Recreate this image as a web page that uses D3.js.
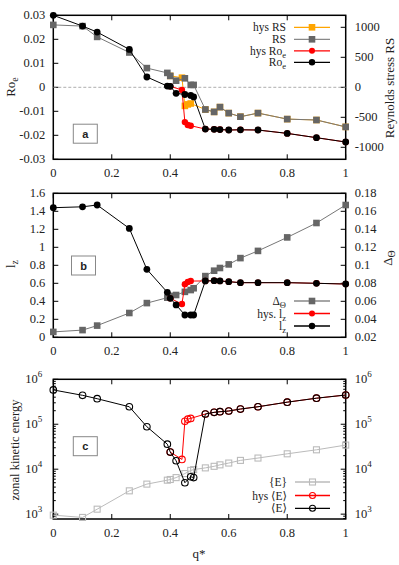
<!DOCTYPE html>
<html><head><meta charset="utf-8">
<script src="https://cdn.jsdelivr.net/npm/d3@7"></script>
<style>
body{margin:0;background:#fff;}
svg{display:block;}
</style></head>
<body><svg id="c" width="399" height="565" font-family="'Liberation Serif', 'Times New Roman', 'DejaVu Serif', serif"></svg>
<script>
// ---------- data ----------
const q      = [0, 0.1, 0.15, 0.26, 0.32, 0.39, 0.4, 0.42, 0.45, 0.47, 0.48, 0.52, 0.55, 0.57, 0.6, 0.64, 0.7, 0.8, 0.9, 1.0];
const qHys   = [0.4, 0.44, 0.45, 0.46, 0.47, 0.52, 0.55, 0.57, 0.6, 0.64, 0.7, 0.8, 0.9, 1.0];

const RoE    = [0.0300, 0.0255, 0.0230, 0.0158, 0.0043, 0.0005, 0.0004, -0.0025, -0.0030, -0.0034, -0.0040, -0.0174, -0.0175, -0.0176, -0.0178, -0.0177, -0.0178, -0.0192, -0.0210, -0.0228];
const hysRoE = [0.0004, -0.0011, -0.0145, -0.0157, -0.0160, -0.0174, -0.0175, -0.0176, -0.0178, -0.0177, -0.0178, -0.0192, -0.0210, -0.0228];
const RS     = [1040, 1020, 840, 580, 320, 240, 190, 110, 150, 40, 40, -370, -410, -330, -430, -490, -430, -530, -545, -660];
const hysRS  = [190, 160, -310, -285, -270, -370, -410, -330, -430, -490, -430, -530, -545, -660];

const lz     = [1.44, 1.45, 1.47, 1.21, 0.755, 0.50, 0.433, 0.36, 0.248, 0.248, 0.248, 0.626, 0.629, 0.626, 0.618, 0.607, 0.607, 0.607, 0.600, 0.592];
const hysLz  = [0.433, 0.37, 0.59, 0.615, 0.625, 0.626, 0.629, 0.626, 0.618, 0.607, 0.607, 0.607, 0.600, 0.592];
const deltaT = [0.026, 0.028, 0.033, 0.047, 0.058, 0.064, 0.066, 0.067, 0.0705, 0.0725, 0.0745, 0.088, 0.094, 0.097, 0.101, 0.108, 0.116, 0.131, 0.147, 0.167];

const Ezon   = [5.8e5, 4.4e5, 3.7e5, 2.45e5, 8.8e4, 3.6e4, 2.4e4, 1.54e4, 5.0e3, 6.8e3, 6.5e3, 1.69e5, 1.84e5, 1.9e5, 1.97e5, 2.18e5, 2.45e5, 3.1e5, 3.8e5, 4.47e5];
const hysE   = [2.4e4, 1.65e4, 1.16e5, 1.3e5, 1.35e5, 1.69e5, 1.84e5, 1.9e5, 1.97e5, 2.18e5, 2.45e5, 3.1e5, 3.8e5, 4.47e5];
const Egrey  = [950, 845, 1290, 3300, 4660, 5700, 5900, 6500, 8000, 9400, 9800, 1.07e4, 1.16e4, 1.25e4, 1.37e4, 1.57e4, 1.77e4, 2.2e4, 2.7e4, 3.44e4];

const xTicks   = [0, 0.2, 0.4, 0.6, 0.8, 1];
const aTicksL  = [-0.03, -0.02, -0.01, 0, 0.01, 0.02, 0.03];
const aTicksR  = [-1000, -500, 0, 500, 1000];
const bTicksL  = [0, 0.2, 0.4, 0.6, 0.8, 1, 1.2, 1.4, 1.6];
const bTicksR  = [0.02, 0.04, 0.06, 0.08, 0.1, 0.12, 0.14, 0.16, 0.18];
const cTicks   = [1e3, 1e4, 1e5, 1e6];

// ---------- layout ----------
const svg = d3.select("#c");
const X0 = 53.3, X1 = 345.7;
const x = d3.scaleLinear().domain([0,1]).range([X0, X1]);

const panels = {
  a: {top: 15.3, bot: 159.3},
  b: {top: 193.3, bot: 337.3},
  c: {top: 379.3, bot: 519}
};
const yA  = d3.scaleLinear().domain([-0.03, 0.03]).range([panels.a.bot, panels.a.top]);
const yA2 = d3.scaleLinear().domain([-1200, 1200]).range([panels.a.bot, panels.a.top]);
const yB  = d3.scaleLinear().domain([0, 1.6]).range([panels.b.bot, panels.b.top]);
const yB2 = d3.scaleLinear().domain([0.02, 0.18]).range([panels.b.bot, panels.b.top]);
const yC  = d3.scaleLog().domain([780, 1e6]).range([panels.c.bot, panels.c.top]);

const FS = 12.5;
const TXT = "#222";

function frame(p, yL, ticksL, fmtL, yR, ticksR, fmtR, log){
  const g = svg.append("g");
  const T = 5;
  xTicks.forEach(t=>{
    g.append("line").attr("x1",x(t)).attr("x2",x(t)).attr("y1",p.bot).attr("y2",p.bot-T).attr("stroke","#000");
    g.append("line").attr("x1",x(t)).attr("x2",x(t)).attr("y1",p.top).attr("y2",p.top+T).attr("stroke","#000");
    g.append("text").attr("x",x(t)).attr("y",p.bot+18).attr("text-anchor","middle").attr("font-size",FS).attr("fill",TXT).text(d3.format("")(t));
  });
  if(!log){
    ticksL.forEach(t=>{
      g.append("line").attr("x1",X0).attr("x2",X0+T).attr("y1",yL(t)).attr("y2",yL(t)).attr("stroke","#000");
      g.append("text").attr("x",X0-8).attr("y",yL(t)+4).attr("text-anchor","end").attr("font-size",FS).attr("fill",TXT).text(fmtL(t));
    });
    ticksR.forEach(t=>{
      g.append("line").attr("x1",X1).attr("x2",X1-T).attr("y1",yR(t)).attr("y2",yR(t)).attr("stroke","#000");
      g.append("text").attr("x",X1+9).attr("y",yR(t)+4).attr("text-anchor","start").attr("font-size",FS).attr("fill",TXT).text(fmtR(t));
    });
  } else {
    const minors = [];
    [100,1000,10000,100000].forEach(d=>{ for(let k=2;k<=9;k++){ const v=d*k; if(v>=yL.domain()[0] && v<=yL.domain()[1]) minors.push(v);} });
    minors.forEach(t=>{
      g.append("line").attr("x1",X0).attr("x2",X0+2.5).attr("y1",yL(t)).attr("y2",yL(t)).attr("stroke","#000");
      g.append("line").attr("x1",X1).attr("x2",X1-2.5).attr("y1",yL(t)).attr("y2",yL(t)).attr("stroke","#000");
    });
    ticksL.forEach(t=>{
      const e = Math.round(Math.log10(t));
      g.append("line").attr("x1",X0).attr("x2",X0+T).attr("y1",yL(t)).attr("y2",yL(t)).attr("stroke","#000");
      g.append("line").attr("x1",X1).attr("x2",X1-T).attr("y1",yL(t)).attr("y2",yL(t)).attr("stroke","#000");
      const tl = g.append("text").attr("x",X0-11).attr("y",yL(t)+4).attr("text-anchor","end").attr("font-size",FS).attr("fill",TXT);
      tl.append("tspan").text("10");
      tl.append("tspan").attr("dy",-6).attr("font-size",9).text(e);
      const tr = g.append("text").attr("x",X1+9).attr("y",yL(t)+4).attr("text-anchor","start").attr("font-size",FS).attr("fill",TXT);
      tr.append("tspan").text("10");
      tr.append("tspan").attr("dy",-6).attr("font-size",9).text(e);
    });
  }
  g.append("rect").attr("x",X0).attr("y",p.top).attr("width",X1-X0).attr("height",p.bot-p.top)
    .attr("fill","none").attr("stroke","#000").attr("stroke-width",1.5);
  return g;
}

function fmtNum(t){ return (t<0?"-":"") + d3.format("")(Math.abs(t)); }

function series(xs, ys, yS, color, lineColor, marker, size, open){
  const g = svg.append("g");
  const line = d3.line().x((d,i)=>x(xs[i])).y(d=>yS(d));
  g.append("path").attr("d", line(ys)).attr("fill","none").attr("stroke",lineColor).attr("stroke-width",1);
  ys.forEach((v,i)=>{
    const cx = x(xs[i]), cy = yS(v);
    if(marker==="circle"){
      g.append("circle").attr("cx",cx).attr("cy",cy).attr("r",size)
        .attr("fill",open?"none":color).attr("stroke",color).attr("stroke-width",open?1.1:0);
    } else {
      g.append("rect").attr("x",cx-size).attr("y",cy-size).attr("width",2*size).attr("height",2*size)
        .attr("fill",open?"none":color).attr("stroke",color).attr("stroke-width",open?1.1:0);
    }
  });
}

function addParts(t, parts, subSize){
  parts.forEach(p=>{
    if(p.sub) t.append("tspan").attr("dy",3).attr("font-size",subSize).text(p.sub);
    else t.append("tspan").text(p.t);
  });
}

function legend(rows, xEnd, l1, l2){
  rows.forEach(r=>{
    const t = svg.append("text").attr("x",xEnd).attr("y",r.y+4).attr("text-anchor","end").attr("font-size",11.5).attr("fill",TXT);
    addParts(t, r.parts, 8.5);
    svg.append("line").attr("x1",l1).attr("x2",l2).attr("y1",r.y).attr("y2",r.y).attr("stroke",r.line).attr("stroke-width",1.3);
    const m = (l1+l2)/2;
    if(r.marker==="circle") svg.append("circle").attr("cx",m).attr("cy",r.y).attr("r",r.size).attr("fill",r.open?"none":r.color).attr("stroke",r.color).attr("stroke-width",r.open?1.1:0);
    else svg.append("rect").attr("x",m-r.size).attr("y",r.y-r.size).attr("width",2*r.size).attr("height",2*r.size).attr("fill",r.open?"none":r.color).attr("stroke",r.color).attr("stroke-width",r.open?1.1:0);
  });
}

function labelBox(cx, cy, s){
  svg.append("rect").attr("x",cx-12).attr("y",cy-9.5).attr("width",24).attr("height",19).attr("fill","#fff").attr("stroke","#888").attr("stroke-width",1);
  svg.append("text").attr("x",cx).attr("y",cy+4).attr("text-anchor","middle").attr("font-size",11).attr("font-weight","bold")
    .attr("font-family","'Liberation Sans', Arial, sans-serif").attr("fill","#222").text(s);
}

function vlabel(xp, yp, parts, size){
  const t = svg.append("text").attr("transform",`translate(${xp},${yp}) rotate(-90)`).attr("text-anchor","middle").attr("font-size",size||13).attr("fill",TXT);
  addParts(t, parts, 10);
}

// ---------- panel a ----------
frame(panels.a, yA, aTicksL, fmtNum, yA2, aTicksR, fmtNum, false);
svg.append("line").attr("x1",X0).attr("x2",X1).attr("y1",yA(0)).attr("y2",yA(0)).attr("stroke","#999").attr("stroke-dasharray","3,2").attr("stroke-width",0.8);
series(qHys, hysRS, yA2, "#ffa500", "#ffa500", "square", 3.3, false);
series(q, RS, yA2, "#666", "#777", "square", 3.3, false);
series(qHys, hysRoE, yA, "#ff0000", "#ff0000", "circle", 3.2, false);
series(q, RoE, yA, "#000", "#000", "circle", 3.4, false);
legend([
  {y:27.3, parts:[{t:"hys RS"}], color:"#ffa500", line:"#ffa500", marker:"square", size:3.3},
  {y:39.3, parts:[{t:"RS"}], color:"#666", line:"#888", marker:"square", size:3.3},
  {y:50.8, parts:[{t:"hys Ro"},{sub:"e"}], color:"#ff0000", line:"#ff0000", marker:"circle", size:3},
  {y:62.3, parts:[{t:"Ro"},{sub:"e"}], color:"#000", line:"#000", marker:"circle", size:3.2}
], 286, 294, 330);
labelBox(85.3, 133.7, "a");
vlabel(15, 87, [{t:"Ro"},{sub:"e"}]);
vlabel(394, 88, [{t:"Reynolds stress RS"}]);

// ---------- panel b ----------
frame(panels.b, yB, bTicksL, d3.format(""), yB2, bTicksR, d3.format(""), false);
series(q, deltaT, yB2, "#666", "#777", "square", 3.3, false);
series(qHys, hysLz, yB, "#ff0000", "#ff0000", "circle", 3.2, false);
series(q, lz, yB, "#000", "#000", "circle", 3.4, false);
legend([
  {y:301, parts:[{t:"Δ"},{sub:"Θ"}], color:"#666", line:"#888", marker:"square", size:3.3},
  {y:313.5, parts:[{t:"hys. l"},{sub:"z"}], color:"#ff0000", line:"#ff0000", marker:"circle", size:3},
  {y:326, parts:[{t:"l"},{sub:"z"}], color:"#000", line:"#000", marker:"circle", size:3.2}
], 286, 294, 330);
labelBox(83.5, 265.5, "b");
vlabel(15, 264, [{t:"l"},{sub:"z"}]);
vlabel(392, 258, [{t:"Δ"},{sub:"Θ"}]);

// ---------- panel c ----------
frame(panels.c, yC, cTicks, null, yC, cTicks, null, true);
series(q, Egrey, yC, "#bbb", "#bbb", "square", 3, true);
series(qHys, hysE, yC, "#ff0000", "#ff0000", "circle", 3.3, true);
series(q, Ezon, yC, "#000", "#000", "circle", 3.3, true);
legend([
  {y:482, parts:[{t:"{E}"}], color:"#bbb", line:"#bbb", marker:"square", size:3, open:true},
  {y:495.5, parts:[{t:"hys ⟨E⟩"}], color:"#ff0000", line:"#ff0000", marker:"circle", size:3, open:true},
  {y:508.3, parts:[{t:"⟨E⟩"}], color:"#000", line:"#000", marker:"circle", size:3, open:true}
], 287, 295, 330);
labelBox(85.3, 446.2, "c");
vlabel(19, 450, [{t:"zonal kinetic energy"}], 12.5);

svg.append("text").attr("x",199).attr("y",558).attr("text-anchor","middle").attr("font-size",13).attr("fill",TXT).text("q*");
</script></body></html>
